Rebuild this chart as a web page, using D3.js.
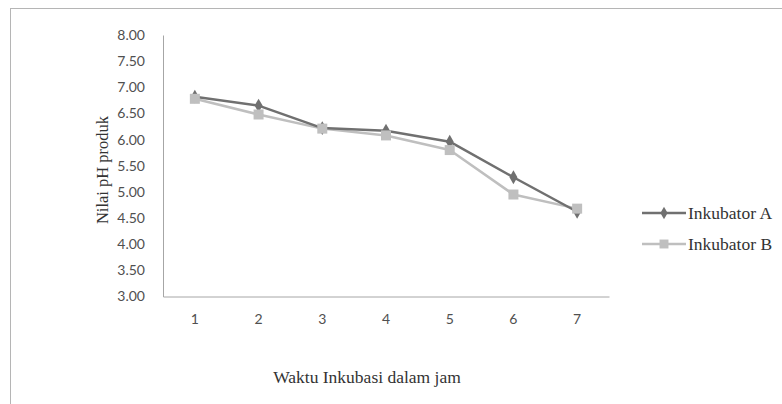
<!DOCTYPE html>
<html><head><meta charset="utf-8">
<script src="https://cdn.jsdelivr.net/npm/d3@7"></script>
<style>body{margin:0;background:#fff}svg{display:block}</style>
</head><body>
<svg id="c" width="782" height="404"></svg>
<script>
const categories = ["1","2","3","4","5","6","7"];
const seriesA = [6.82, 6.65, 6.22, 6.17, 5.96, 5.28, 4.62];
const seriesB = [6.78, 6.48, 6.21, 6.08, 5.80, 4.95, 4.68];
const seriesNames = ["Inkubator A", "Inkubator B"];
const yTicks = [3.0, 3.5, 4.0, 4.5, 5.0, 5.5, 6.0, 6.5, 7.0, 7.5, 8.0];

(function(){
const svg = d3.select("#c");
svg.append("rect").attr("x",10.5).attr("y",8.5).attr("width",800).attr("height",420)
  .attr("fill","none").attr("stroke","#b5b5b5").attr("stroke-width",1);

const pLeft=163, pRight=609, pTop=35, pBottom=296.5;
const x = d3.scaleBand().domain(categories).range([pLeft,pRight]);
const y = d3.scaleLinear().domain([3,8]).range([pBottom,pTop]);

const yAxis = svg.append("g").attr("transform",`translate(${pLeft},0)`)
  .call(d3.axisLeft(y).tickValues(yTicks).tickFormat(d3.format(".2f")).tickSize(0).tickPadding(18));
yAxis.select(".domain").attr("stroke","#a6a6a6");
yAxis.selectAll("text").attr("font-family","Lato, 'Open Sans', sans-serif").attr("font-size",14).attr("fill","#505050");

const xAxis = svg.append("g").attr("transform",`translate(0,${pBottom})`)
  .call(d3.axisBottom(x).tickSize(0).tickPadding(18));
xAxis.select(".domain").attr("stroke","#a6a6a6");
xAxis.selectAll("text").attr("font-family","Lato, 'Open Sans', sans-serif").attr("font-size",14).attr("fill","#505050");

const cx = d => x(d) + x.bandwidth()/2;
const series = [
  {name:seriesNames[0], values:seriesA, color:"#707070", sym:d3.symbolDiamond, size:55},
  {name:seriesNames[1], values:seriesB, color:"#bfbfbf", sym:d3.symbolSquare, size:100}
];
const line = d3.line().x((d,i)=>cx(categories[i])).y(d=>y(d));
series.slice().reverse().forEach(s=>{
  svg.append("path").datum(s.values).attr("d",line).attr("fill","none")
    .attr("stroke",s.color).attr("stroke-width",2.5).attr("stroke-linejoin","round");
});
series.forEach(s=>{
  svg.append("g").selectAll("path").data(s.values).join("path")
    .attr("d",d3.symbol(s.sym,s.size))
    .attr("transform",(d,i)=>`translate(${cx(categories[i])},${y(d)})`)
    .attr("fill",s.color);
});

const serif = "'Liberation Serif', 'Times New Roman', serif";
const lg = svg.append("g");
series.forEach((s,i)=>{
  const ly = 213 + i*31;
  lg.append("line").attr("x1",642).attr("x2",686).attr("y1",ly).attr("y2",ly)
    .attr("stroke",s.color).attr("stroke-width",2.5);
  lg.append("path").attr("d",d3.symbol(s.sym,s.size*0.8)).attr("transform",`translate(664,${ly})`).attr("fill",s.color);
  lg.append("text").attr("x",688).attr("y",ly).attr("dy","0.35em")
    .attr("font-family",serif).attr("font-size",17.5).attr("fill","#333")
    .text(s.name);
});

svg.append("text").attr("x",367).attr("y",383).attr("text-anchor","middle")
  .attr("font-family",serif).attr("font-size",17.5).attr("fill","#333")
  .text("Waktu Inkubasi dalam jam");
svg.append("text").attr("transform","translate(108,170) rotate(-90)").attr("text-anchor","middle")
  .attr("font-family",serif).attr("font-size",16.5).attr("fill","#333")
  .text("Nilai pH produk");
})();
</script>
</body></html>
